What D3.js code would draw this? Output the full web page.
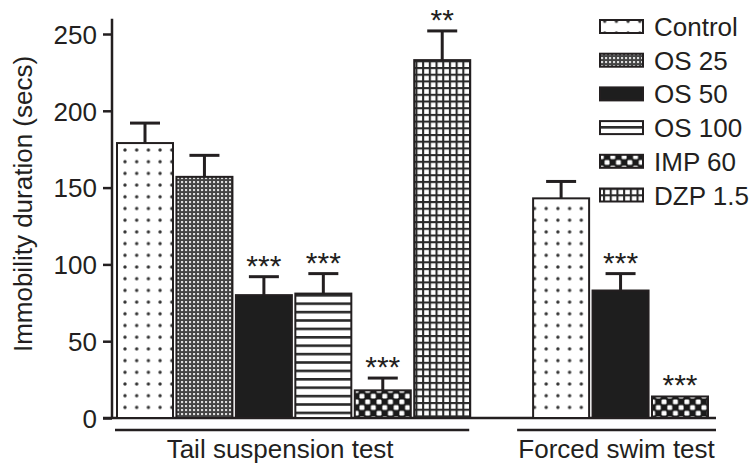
<!DOCTYPE html>
<html><head><meta charset="utf-8">
<script src="https://cdn.jsdelivr.net/npm/d3@7"></script>
<style>body{margin:0;background:#fff}svg{display:block}text{font-family:"Liberation Sans",Arial,sans-serif;fill:#231f20}</style>
</head><body><svg id="c" width="753" height="464"></svg>
<script>
// ---- data ----
const treatments = ["Control","OS 25","OS 50","OS 100","IMP 60","DZP 1.5"];
const groups = ["Tail suspension test","Forced swim test"];
const tstTreatments = ["Control","OS 25","OS 50","OS 100","IMP 60","DZP 1.5"];
const tstMeans = [179,157,80,81,18,233];
const tstSEM = [13,14,12,13,8,19];
const tstSig = ["","","***","***","***","**"];
const fstTreatments = ["Control","OS 50","IMP 60"];
const fstMeans = [143,83,14];
const fstSEM = [11,11,0];
const fstSig = ["","***","***"];
const yTicks = [0,50,100,150,200,250];
const yLabel = "Immobility duration (secs)";

const ink = "#231f20";
const svg = d3.select("#c");

const rows = [
  ...tstTreatments.map((t,i)=>({group:groups[0],treat:t,mean:tstMeans[i],sem:tstSEM[i],sig:tstSig[i]})),
  ...fstTreatments.map((t,i)=>({group:groups[1],treat:t,mean:fstMeans[i],sem:fstSEM[i],sig:fstSig[i]}))
];
rows.forEach(r=>r.key=r.group+"|"+r.treat);
const slots = [...rows.filter(r=>r.group===groups[0]).map(r=>r.key),"gap",...rows.filter(r=>r.group===groups[1]).map(r=>r.key)];

const x = d3.scaleBand().domain(slots).range([117,708]).paddingInner(0.058).paddingOuter(0);
const y = d3.scaleLinear().domain([0,250]).range([418,34]);
const bw = x.bandwidth();

// ---- patterns ----
const defs = svg.append("defs");
function pat(id,w,h,ox,oy){return defs.append("pattern").attr("id",id).attr("patternUnits","userSpaceOnUse").attr("width",w).attr("height",h).attr("x",ox||0).attr("y",oy||0);}
let p = pat("pDots",11.7,11.7,119.15,144.15);
p.append("rect").attr("width",11.7).attr("height",11.7).attr("fill","#fff");
p.append("circle").attr("cx",5.85).attr("cy",5.85).attr("r",1.7).attr("fill","#333");
p = pat("pFine",4,4);
p.append("rect").attr("width",4).attr("height",4).attr("fill","#444");
p.append("rect").attr("x",1).attr("y",1).attr("width",2.1).attr("height",2.1).attr("fill","#dcdcdc");
p = pat("pHoriz",10,8.4);
p.append("rect").attr("width",10).attr("height",8.4).attr("fill","#fff");
p.append("rect").attr("width",10).attr("height",2.6).attr("fill","#2a2a2a");
p = pat("pCheck",11.4,11.4);
p.append("rect").attr("width",11.4).attr("height",11.4).attr("fill","#1a1a1a");
p.append("rect").attr("x",0.4).attr("y",0.4).attr("width",4.9).attr("height",4.9).attr("rx",1.2).attr("fill","#fff");
p.append("rect").attr("x",6.1).attr("y",6.1).attr("width",4.9).attr("height",4.9).attr("rx",1.2).attr("fill","#fff");
p = pat("pGrid",6.7,6.7);
p.append("rect").attr("width",6.7).attr("height",6.7).attr("fill","#fff");
p.append("rect").attr("width",2.1).attr("height",6.7).attr("fill","#2a2a2a");
p.append("rect").attr("width",6.7).attr("height",2.1).attr("fill","#2a2a2a");
const fills = {"Control":"url(#pDots)","OS 25":"url(#pFine)","OS 50":"#1e1e1e","OS 100":"url(#pHoriz)","IMP 60":"url(#pCheck)","DZP 1.5":"url(#pGrid)"};

// ---- axis ----
const ax = svg.append("g").attr("transform","translate(112,0)")
  .call(d3.axisLeft(y).tickValues(yTicks).tickSize(9).tickSizeOuter(0).tickPadding(6));
ax.select(".domain").remove();
ax.selectAll(".tick line").attr("stroke",ink).attr("stroke-width",2.5);
ax.selectAll(".tick text").attr("font-size",26).attr("fill",ink).attr("dy","0.36em")
  .style("font-family",'"Liberation Sans",Arial,sans-serif');
svg.append("line").attr("x1",112).attr("x2",112).attr("y1",y(0)).attr("y2",y(260)).attr("stroke",ink).attr("stroke-width",2.5);
svg.append("line").attr("x1",103).attr("x2",716).attr("y1",y(0)).attr("y2",y(0)).attr("stroke",ink).attr("stroke-width",2.5);

svg.append("text").attr("transform","translate(32,204) rotate(-90)").attr("text-anchor","middle").attr("font-size",26).text(yLabel);

// ---- bars ----
const g = svg.append("g");
g.selectAll("rect.bar").data(rows).join("rect").attr("class","bar")
  .attr("x",d=>x(d.key)).attr("y",d=>y(d.mean)).attr("width",bw).attr("height",d=>y(0)-y(d.mean))
  .attr("fill",d=>fills[d.treat]).attr("stroke",ink).attr("stroke-width",2);
const eb = rows.filter(d=>d.sem>0);
g.selectAll("line.stem").data(eb).join("line").attr("class","stem")
  .attr("x1",d=>x(d.key)+bw/2).attr("x2",d=>x(d.key)+bw/2).attr("y1",d=>y(d.mean)).attr("y2",d=>y(d.mean+d.sem))
  .attr("stroke",ink).attr("stroke-width",3);
g.selectAll("line.cap").data(eb).join("line").attr("class","cap")
  .attr("x1",d=>x(d.key)+bw/2-15).attr("x2",d=>x(d.key)+bw/2+15).attr("y1",d=>y(d.mean+d.sem)).attr("y2",d=>y(d.mean+d.sem))
  .attr("stroke",ink).attr("stroke-width",3);
g.selectAll("text.sig").data(rows.filter(d=>d.sig)).join("text").attr("class","sig")
  .attr("x",d=>x(d.key)+bw/2).attr("y",d=>y(d.mean+d.sem)-1).attr("text-anchor","middle").attr("font-size",30).text(d=>d.sig);

// ---- group underlines & labels ----
const tKeys = slots.slice(0,6), fKeys = slots.slice(7);
const tx1 = x(tKeys[0])-2, tx2 = x(tKeys[5])+bw-1;
const fx1 = x(fKeys[0])-16, fx2 = x(fKeys[2])+bw+8;
svg.append("line").attr("x1",tx1).attr("x2",tx2).attr("y1",430).attr("y2",430).attr("stroke",ink).attr("stroke-width",2.5);
svg.append("line").attr("x1",fx1).attr("x2",fx2).attr("y1",430).attr("y2",430).attr("stroke",ink).attr("stroke-width",2.5);
svg.append("text").attr("x",(tx1+tx2)/2-12).attr("y",458).attr("text-anchor","middle").attr("font-size",26).text(groups[0]);
svg.append("text").attr("x",(fx1+fx2)/2).attr("y",458).attr("text-anchor","middle").attr("font-size",26).text(groups[1]);

// ---- legend ----
const lg = svg.append("g");
treatments.forEach((t,i)=>{
  const cy = 26.5 + i*33.7;
  lg.append("rect").attr("x",600).attr("y",cy-6.5).attr("width",43).attr("height",13)
    .attr("fill",fills[t]).attr("stroke",ink).attr("stroke-width",2);
  lg.append("text").attr("x",654).attr("y",cy+9.5).attr("font-size",26).text(t);
});
</script></body></html>
